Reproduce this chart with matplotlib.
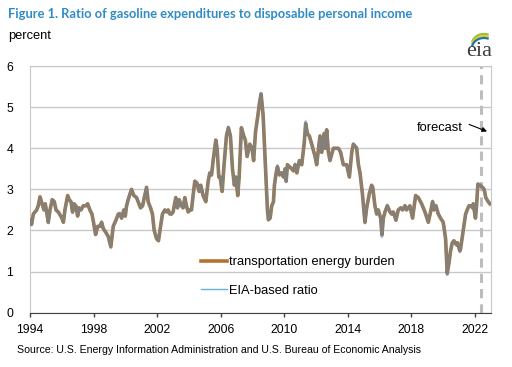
import matplotlib
matplotlib.use("Agg")
import matplotlib.pyplot as plt
from matplotlib.lines import Line2D
from matplotlib.patches import Arc

# --- data (decimal year, percent) ---
dates = [
    1994.00, 1994.10, 1994.21, 1994.42, 1994.52, 1994.63, 1994.80, 1994.88, 1994.96,
    1995.05, 1995.15, 1995.26, 1995.40, 1995.53, 1995.64, 1995.78, 1995.93,
    1996.01, 1996.10, 1996.20, 1996.37, 1996.47, 1996.58, 1996.68, 1996.77, 1996.89,
    1997.00, 1997.08, 1997.21, 1997.35, 1997.52, 1997.63, 1997.77, 1997.90,
    1998.00, 1998.13, 1998.26, 1998.40, 1998.51, 1998.61, 1998.78, 1998.93,
    1999.09, 1999.24, 1999.41, 1999.56, 1999.66, 1999.77, 1999.91,
    2000.00, 2000.08, 2000.18, 2000.39, 2000.54, 2000.71, 2000.81, 2000.96,
    2001.09, 2001.17, 2001.34, 2001.44, 2001.59, 2001.71, 2001.82, 2001.97,
    2002.09, 2002.22, 2002.34, 2002.49, 2002.60, 2002.70, 2002.81, 2002.91,
    2003.01, 2003.18, 2003.29, 2003.39, 2003.54, 2003.64, 2003.75, 2003.85, 2003.96,
    2004.06, 2004.17, 2004.27, 2004.38, 2004.52, 2004.65, 2004.75, 2004.90,
    2005.07, 2005.22, 2005.32, 2005.43, 2005.53, 2005.70, 2005.78, 2005.89, 2005.97,
    2006.10, 2006.22, 2006.37, 2006.49, 2006.62, 2006.75, 2006.87, 2006.96,
    2007.08, 2007.17, 2007.31, 2007.46, 2007.56, 2007.67, 2007.84, 2007.98,
    2008.08, 2008.20, 2008.35, 2008.45, 2008.55, 2008.68, 2008.80, 2008.95,
    2009.01, 2009.12, 2009.22, 2009.33, 2009.39, 2009.50, 2009.58, 2009.71, 2009.85, 2009.96,
    2010.06, 2010.13, 2010.21, 2010.34, 2010.48, 2010.59, 2010.69, 2010.80, 2010.96,
    2011.11, 2011.26, 2011.36, 2011.47, 2011.59, 2011.74, 2011.95,
    2012.05, 2012.26, 2012.37, 2012.52, 2012.60, 2012.68, 2012.79, 2012.89,
    2013.10, 2013.42, 2013.56, 2013.73, 2013.94,
    2014.11, 2014.26, 2014.36, 2014.57, 2014.68, 2014.78, 2014.93,
    2015.09, 2015.20, 2015.37, 2015.51, 2015.58, 2015.72, 2015.83, 2015.93,
    2016.08, 2016.16, 2016.25, 2016.35, 2016.50, 2016.67, 2016.77, 2016.88,
    2017.04, 2017.19, 2017.34, 2017.46, 2017.61, 2017.71, 2017.92,
    2018.09, 2018.28, 2018.45, 2018.66, 2018.87,
    2019.08, 2019.25, 2019.35, 2019.43, 2019.56, 2019.71, 2019.85,
    2020.02, 2020.17, 2020.27, 2020.38, 2020.48, 2020.59, 2020.69, 2020.86, 2020.92,
    2021.07, 2021.11, 2021.28, 2021.43, 2021.53, 2021.64, 2021.80, 2021.87, 2021.91,
    2022.05, 2022.12, 2022.20, 2022.33, 2022.49, 2022.60, 2022.70, 2022.85, 2022.96,
]

burden = [
    2.25, 2.15, 2.40, 2.50, 2.60, 2.82, 2.60, 2.50, 2.65,
    2.45, 2.20, 2.50, 2.75, 2.70, 2.50, 2.45, 2.35,
    2.30, 2.20, 2.50, 2.85, 2.75, 2.70, 2.45, 2.65, 2.60,
    2.35, 2.55, 2.50, 2.60, 2.60, 2.65, 2.50, 2.40,
    2.20, 1.90, 2.10, 2.10, 2.20, 2.05, 1.95, 1.85,
    1.60, 2.10, 2.25, 2.40, 2.40, 2.30, 2.50,
    2.35, 2.60, 2.75, 3.00, 2.85, 2.80, 2.70, 2.55,
    2.60, 2.75, 3.05, 2.70, 2.55, 2.40, 2.00, 1.80,
    1.75, 2.10, 2.40, 2.50, 2.45, 2.50, 2.40, 2.40,
    2.45, 2.80, 2.55, 2.75, 2.60, 2.55, 2.80, 2.60, 2.45,
    2.50, 2.50, 2.85, 3.20, 3.15, 2.95, 3.10, 2.85,
    2.70, 3.20, 3.40, 3.35, 3.70, 4.20, 4.00, 3.30, 3.30,
    2.95, 3.60, 4.30, 4.50, 4.30, 3.50, 3.10, 3.30,
    2.85, 3.30, 4.50, 4.30, 4.20, 3.80, 4.10, 4.00,
    3.70, 4.40, 4.80, 5.10, 5.32, 4.80, 3.80, 2.50,
    2.26, 2.30, 2.60, 2.70, 3.10, 3.40, 3.55, 3.35, 3.40, 3.30,
    3.50, 3.20, 3.60, 3.55, 3.50, 3.45, 3.60, 3.40, 3.70,
    3.60, 4.10, 4.60, 4.35, 4.30, 4.10, 3.80,
    3.60, 4.30, 3.90, 4.35, 4.00, 4.45, 3.90, 3.70,
    4.00, 4.00, 3.90, 3.60, 3.60,
    3.30, 3.90, 4.10, 4.00, 3.60, 3.40, 2.90,
    2.20, 2.55, 2.90, 3.10, 3.05, 2.60, 2.40, 2.50,
    2.30, 1.90, 2.30, 2.45, 2.60, 2.45, 2.40, 2.45,
    2.25, 2.50, 2.55, 2.50, 2.60, 2.50, 2.60,
    2.30, 2.85, 2.80, 2.65, 2.45,
    2.20, 2.50, 2.70, 2.50, 2.60, 2.40, 2.30,
    2.20, 1.80, 0.96, 1.20, 1.50, 1.70, 1.75, 1.65, 1.70,
    1.50, 1.55, 2.00, 2.40, 2.50, 2.60, 2.60, 2.55, 2.65,
    2.30, 2.60, 3.12, 3.10, 3.05, 3.00, 2.80, 2.70, 2.65,
]

eia_ratio = [
    2.22, 2.13, 2.40, 2.50, 2.62, 2.80, 2.58, 2.50, 2.65,
    2.43, 2.18, 2.50, 2.75, 2.70, 2.48, 2.45, 2.35,
    2.30, 2.20, 2.50, 2.83, 2.75, 2.70, 2.43, 2.65, 2.60,
    2.35, 2.55, 2.50, 2.60, 2.62, 2.65, 2.50, 2.40,
    2.20, 1.90, 2.10, 2.12, 2.20, 2.05, 1.95, 1.85,
    1.60, 2.10, 2.25, 2.40, 2.43, 2.30, 2.50,
    2.35, 2.60, 2.75, 3.00, 2.85, 2.80, 2.70, 2.55,
    2.60, 2.78, 3.05, 2.70, 2.55, 2.40, 2.00, 1.80,
    1.75, 2.10, 2.40, 2.50, 2.45, 2.50, 2.40, 2.40,
    2.45, 2.80, 2.55, 2.75, 2.60, 2.55, 2.80, 2.60, 2.45,
    2.50, 2.50, 2.85, 3.20, 3.15, 2.95, 3.10, 2.85,
    2.70, 3.20, 3.40, 3.35, 3.70, 4.20, 4.00, 3.30, 3.30,
    2.95, 3.60, 4.30, 4.52, 4.30, 3.50, 3.10, 3.30,
    2.85, 3.30, 4.50, 4.30, 4.20, 3.80, 4.10, 4.00,
    3.70, 4.40, 4.80, 5.10, 5.34, 4.80, 3.80, 2.50,
    2.26, 2.30, 2.60, 2.70, 3.10, 3.40, 3.58, 3.35, 3.40, 3.30,
    3.50, 3.18, 3.60, 3.55, 3.50, 3.45, 3.62, 3.40, 3.70,
    3.60, 4.10, 4.65, 4.35, 4.30, 4.10, 3.80,
    3.60, 4.30, 3.90, 4.38, 4.00, 4.45, 3.90, 3.70,
    4.00, 4.00, 3.90, 3.60, 3.60,
    3.30, 3.90, 4.10, 4.02, 3.60, 3.40, 2.90,
    2.18, 2.55, 2.90, 3.10, 3.05, 2.60, 2.40, 2.50,
    2.30, 1.85, 2.30, 2.45, 2.62, 2.45, 2.40, 2.45,
    2.25, 2.50, 2.55, 2.50, 2.62, 2.50, 2.60,
    2.30, 2.85, 2.80, 2.65, 2.45,
    2.20, 2.50, 2.72, 2.50, 2.62, 2.40, 2.30,
    2.20, 1.80, 0.92, 1.20, 1.50, 1.70, 1.75, 1.65, 1.70,
    1.50, 1.55, 2.00, 2.40, 2.50, 2.60, 2.60, 2.55, 2.65,
    2.30, 2.60, 3.15, 3.12, 3.05, 3.00, 2.80, 2.70, 2.65,
]

year_ticks = [1994, 1998, 2002, 2006, 2010, 2014, 2018, 2022]
pct_ticks = [0, 1, 2, 3, 4, 5, 6]
forecast_start = 2022.42

orange = "#B5722F"
blue_line = "#5B8DB8"
blue_legend = "#6AAFD9"
grid_gray = "#C8C8C8"

plt.rcParams["font.family"] = ["Liberation Sans", "DejaVu Sans"]

fig = plt.figure(figsize=(5.12, 3.67), dpi=100)
ax = fig.add_axes([0.0586, 0.148, 0.8995, 0.672])

ax.plot(dates, burden, color=orange, lw=2.6, solid_joinstyle="round", zorder=3)
ax.plot(dates, eia_ratio, color=blue_line, lw=2.0, alpha=0.55, solid_joinstyle="round", zorder=4)

ax.axvline(forecast_start, color="#BDBDBD", lw=2.2, ls=(0, (3, 2)), zorder=2)

ax.set_xlim(1994, 2023)
ax.set_ylim(0, 6)
ax.set_xticks(year_ticks)
ax.set_yticks(pct_ticks)
ax.set_xticklabels([str(y) for y in year_ticks])
ax.tick_params(axis="x", direction="out", length=3, width=1, color="#404040",
               labelsize=8.8, pad=5)
ax.tick_params(axis="y", length=0, labelsize=8.8, pad=12)
ax.yaxis.grid(True, color=grid_gray, lw=1)
ax.set_axisbelow(True)
for side in ("top", "left", "right"):
    ax.spines[side].set_color(grid_gray)
ax.spines["bottom"].set_color("#404040")

# legend
handles = [Line2D([], [], color=orange, lw=2.6),
           Line2D([], [], color=blue_legend, lw=1.0)]
ax.legend(handles, ["transportation energy burden", "EIA-based ratio"],
          loc="upper left", bbox_to_anchor=(0.372, 0.228), frameon=False,
          fontsize=9.3, handlelength=2.0, handletextpad=0.15,
          labelspacing=1.25, borderpad=0, borderaxespad=0)

# forecast annotation
ax.text(2021.23, 4.49, "forecast", fontsize=9.3, ha="right", va="center")
ax.annotate("", xy=(2022.78, 4.41), xytext=(2021.65, 4.58),
            arrowprops=dict(arrowstyle="-|>", color="black", lw=0.8,
                            mutation_scale=7, shrinkA=0, shrinkB=0))

# titles and source
fig.text(8 / 512, 1 - 14 / 367, "Figure 1. Ratio of gasoline expenditures to disposable personal income",
         fontsize=9.3, fontweight="bold", color="#2F8CC6", family=["Lato", "DejaVu Sans"],
         ha="left", va="center")
fig.text(8 / 512, 1 - 36 / 367, "percent", fontsize=9.3, ha="left", va="center")
fig.text(17 / 512, 1 - 350 / 367,
         "Source: U.S. Energy Information Administration and U.S. Bureau of Economic Analysis",
         fontsize=7.6, ha="left", va="center")

# eia logo
fig.text(479 / 512, 1 - 56 / 367, "eia", fontsize=16, color="#3C3C3C",
         family=["Liberation Serif", "DejaVu Serif"], ha="center", va="baseline")
for col, dy in (("#8CC63E", 0), ("#F0C419", 2), ("#1478B8", 4)):
    fig.add_artist(Arc((484 / 512, 1 - (44 + dy) / 367), 24 / 512, 20 / 367,
                       theta1=70, theta2=170, color=col, lw=1.6,
                       transform=fig.transFigure))

fig.savefig("out.png", dpi=100)
